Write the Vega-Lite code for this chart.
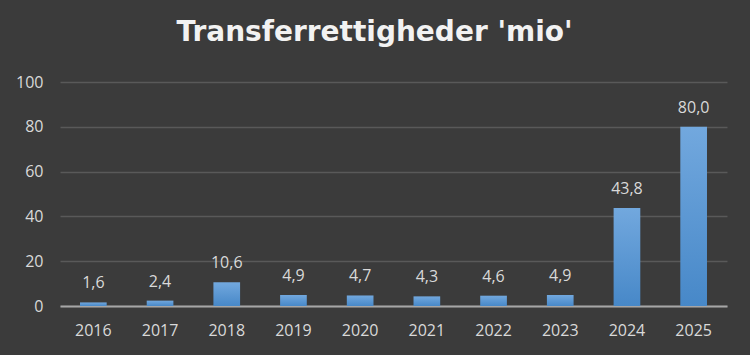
{
  "$schema": "https://vega.github.io/schema/vega-lite/v6.json",
  "autosize": "none",
  "padding": {"left": 60, "top": 82, "right": 23, "bottom": 49},
  "width": 667,
  "height": 224,
  "background": "#3b3b3b",
  "title": {
    "text": "Transferrettigheder 'mio'",
    "font": "DejaVu Sans",
    "fontSize": 28,
    "fontWeight": "bold",
    "color": "#f2f2f2",
    "anchor": "middle",
    "frame": "group",
    "dx": -19,
    "offset": 5,
    "baseline": "alphabetic"
  },
  "config": {
    "view": {"stroke": null},
    "locale": {"number": {"decimal": ",", "thousands": ".", "grouping": [3], "currency": ["", " kr."]}},
    "font": "Open Sans"
  },
  "data": {
    "values": [
      {"year": "2016", "value": 1.6},
      {"year": "2017", "value": 2.4},
      {"year": "2018", "value": 10.6},
      {"year": "2019", "value": 4.9},
      {"year": "2020", "value": 4.7},
      {"year": "2021", "value": 4.3},
      {"year": "2022", "value": 4.6},
      {"year": "2023", "value": 4.9},
      {"year": "2024", "value": 43.8},
      {"year": "2025", "value": 80.0}
    ]
  },
  "encoding": {
    "x": {
      "field": "year",
      "type": "nominal",
      "scale": {"paddingInner": 0.6, "paddingOuter": 0.3},
      "axis": {
        "title": null,
        "labelAngle": 0,
        "labelColor": "#d9d9d9",
        "labelFontSize": 16,
        "labelPadding": 16,
        "ticks": false,
        "domainColor": "#a6a6a6",
        "domainWidth": 2
      }
    },
    "y": {
      "field": "value",
      "type": "quantitative",
      "scale": {"domain": [0, 100]},
      "axis": {
        "title": null,
        "values": [0, 20, 40, 60, 80, 100],
        "labelColor": "#d9d9d9",
        "labelFontSize": 16,
        "labelPadding": 17,
        "ticks": false,
        "domain": false,
        "gridColor": "#595959",
        "gridWidth": 1.5
      }
    }
  },
  "layer": [
    {
      "mark": {
        "type": "bar",
        "fill": {
          "gradient": "linear",
          "x1": 0, "y1": 0, "x2": 0, "y2": 1,
          "stops": [
            {"offset": 0, "color": "#72a8de"},
            {"offset": 1, "color": "#4788c8"}
          ]
        }
      }
    },
    {
      "mark": {
        "type": "text",
        "baseline": "alphabetic",
        "dy": -14,
        "fontSize": 16,
        "color": "#d9d9d9"
      },
      "encoding": {
        "text": {"field": "value", "type": "quantitative", "format": ".1f"}
      }
    }
  ]
}
